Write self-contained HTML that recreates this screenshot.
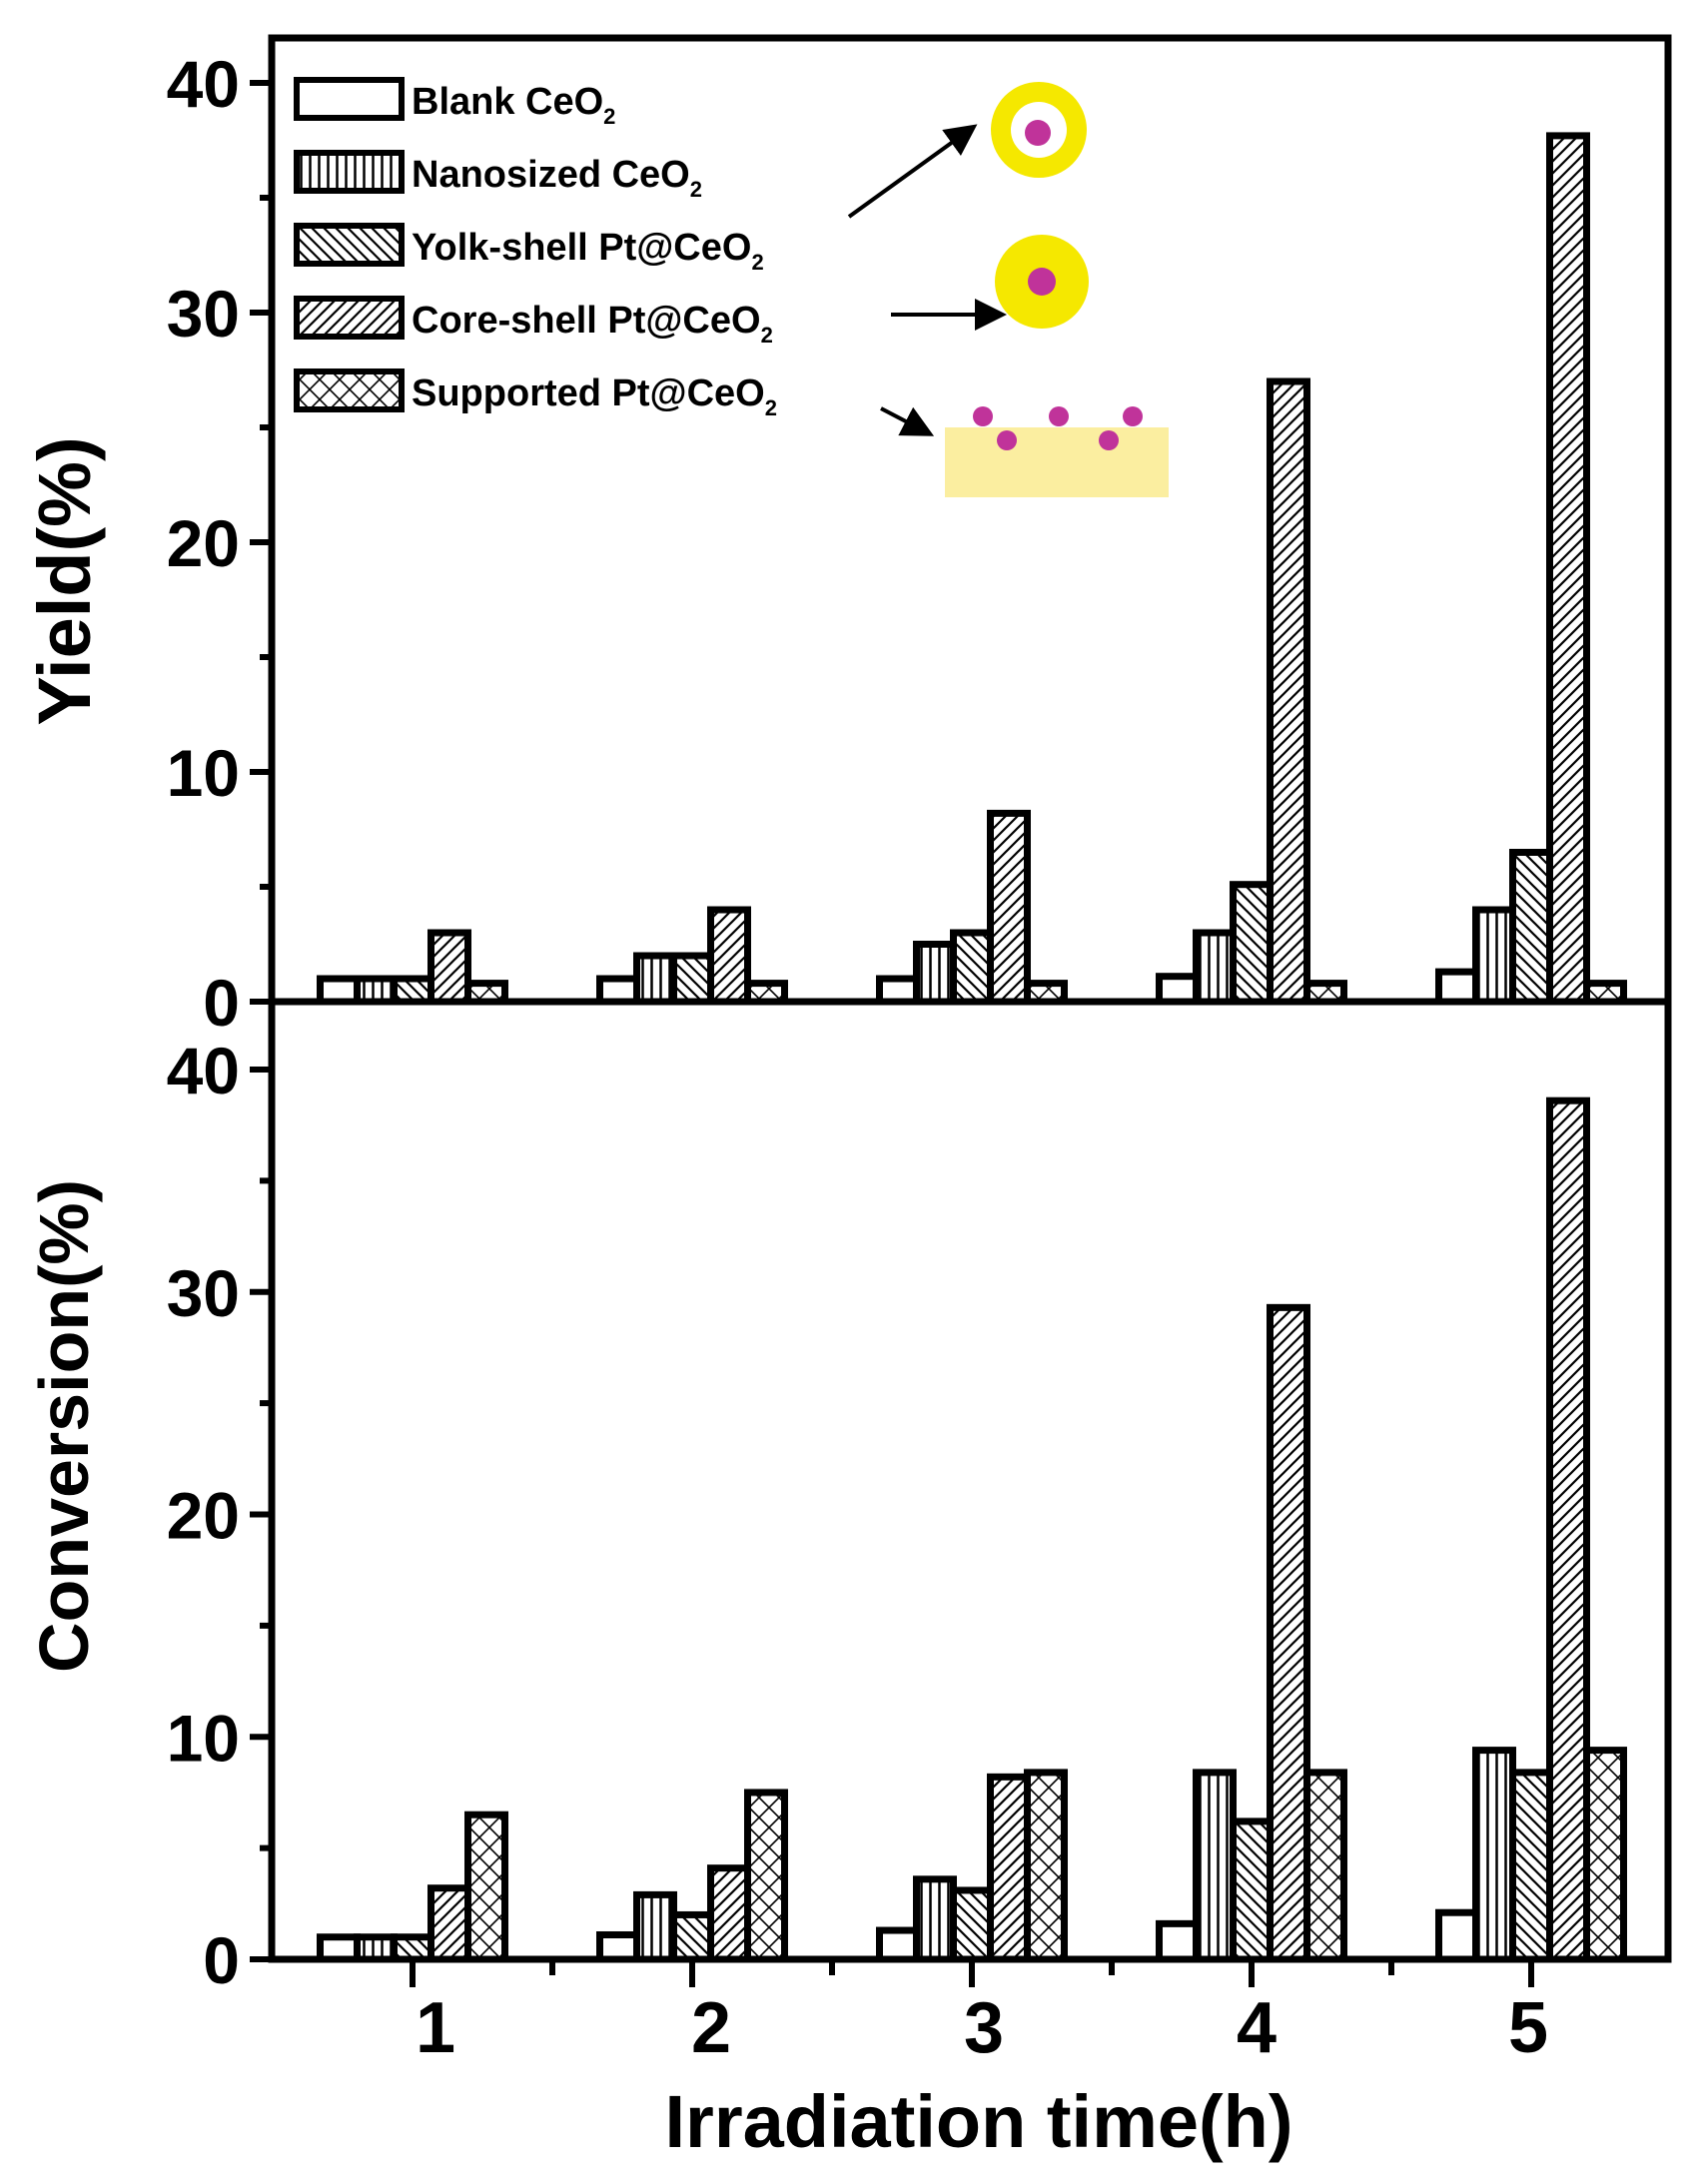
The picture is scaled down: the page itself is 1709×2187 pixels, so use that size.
<!DOCTYPE html>
<html><head><meta charset="utf-8"><style>
html,body{margin:0;padding:0;background:#fff;}
svg{display:block;}
.t{font-family:"Liberation Sans Narrow","Liberation Sans",sans-serif;font-weight:bold;}
</style></head><body>
<svg width="1709" height="2187" viewBox="0 0 1709 2187" xmlns="http://www.w3.org/2000/svg">
<defs>
<pattern id="pv" width="9" height="9" patternUnits="userSpaceOnUse"><line x1="4.5" y1="0" x2="4.5" y2="9" stroke="#000" stroke-width="2.5"/></pattern>
<pattern id="pb" width="12" height="12" patternUnits="userSpaceOnUse"><path d="M-3,-3 L15,15 M-3,9 L3,15 M9,-3 L15,3" stroke="#000" stroke-width="2.2"/></pattern>
<pattern id="pf" width="12" height="12" patternUnits="userSpaceOnUse"><path d="M-3,15 L15,-3 M-3,3 L3,-3 M9,15 L15,9" stroke="#000" stroke-width="2.2"/></pattern>
<pattern id="px" width="20" height="20" patternUnits="userSpaceOnUse"><path d="M0,0 L20,20 M20,0 L0,20" stroke="#000" stroke-width="1.6"/></pattern>
<marker id="ah" markerWidth="8" markerHeight="8" refX="6" refY="4" orient="auto" markerUnits="strokeWidth"><path d="M0,0 L8,4 L0,8 z" fill="#000"/></marker>
</defs>
<g id="bars" stroke="#000" stroke-width="7"></g>
<rect x="272" y="38" width="1398" height="1924" fill="none" stroke="#000" stroke-width="7"/>
<line x1="272" y1="1003" x2="1670" y2="1003" stroke="#000" stroke-width="7"/>
<g id="ticks" stroke="#000" stroke-width="6"></g>
<g class="t" font-size="66" text-anchor="end" id="ylab"></g>
<g class="t" font-size="72" text-anchor="middle">
<text x="436" y="2055">1</text><text x="712" y="2055">2</text><text x="985" y="2055">3</text><text x="1258" y="2055">4</text><text x="1530" y="2055">5</text>
</g>
<text class="t" font-size="74" x="980" y="2150" text-anchor="middle">Irradiation time(h)</text>
<text font-family="Liberation Sans,sans-serif" font-weight="bold" font-size="74" transform="translate(90,582) rotate(-90)" text-anchor="middle">Yield(%)</text>
<text font-family="Liberation Sans,sans-serif" font-weight="bold" font-size="70" transform="translate(88,1428) rotate(-90)" text-anchor="middle">Conversion(%)</text>
<g stroke="#000" stroke-width="6">
<rect x="297" y="80" width="105" height="38" fill="#fff"/>
<rect x="297" y="153" width="105" height="38" fill="url(#pv)"/>
<rect x="297" y="226" width="105" height="38" fill="url(#pb)"/>
<rect x="297" y="299" width="105" height="38" fill="url(#pf)"/>
<rect x="297" y="372" width="105" height="38" fill="url(#px)"/>
</g>
<g class="t" font-size="38">
<text x="412" y="114">Blank CeO<tspan font-size="22" dy="10">2</tspan></text>
<text x="412" y="187">Nanosized CeO<tspan font-size="22" dy="10">2</tspan></text>
<text x="412" y="260">Yolk-shell Pt@CeO<tspan font-size="22" dy="10">2</tspan></text>
<text x="412" y="333">Core-shell Pt@CeO<tspan font-size="22" dy="10">2</tspan></text>
<text x="412" y="406">Supported Pt@CeO<tspan font-size="22" dy="10">2</tspan></text>
</g>
<circle cx="1040" cy="130" r="48" fill="#f5e800"/><circle cx="1040" cy="130" r="28" fill="#fff"/><circle cx="1039" cy="133" r="13" fill="#c0339a"/>
<circle cx="1043" cy="282" r="47" fill="#f5e800"/><circle cx="1043" cy="282" r="14" fill="#c0339a"/>
<rect x="946" y="428" width="224" height="70" fill="#fbeea0"/>
<g fill="#c0339a"><circle cx="984" cy="417" r="10"/><circle cx="1008" cy="441" r="10"/><circle cx="1060" cy="417" r="10"/><circle cx="1110" cy="441" r="10"/><circle cx="1134" cy="417" r="10"/></g>
<g stroke="#000" stroke-width="4" marker-end="url(#ah)">
<line x1="850" y1="217" x2="972" y2="129"/>
<line x1="892" y1="315" x2="1000" y2="315"/>
<line x1="882" y1="409" x2="928" y2="433"/>
</g>
</svg>
<script>
(function(){
var NS="http://www.w3.org/2000/svg";
function el(p,t,a){var e=document.createElementNS(NS,t);for(var k in a)e.setAttribute(k,a[k]);p.appendChild(e);return e;}
var fills=["#fff","url(#pv)","url(#pb)","url(#pf)","url(#px)"];
var dTop=[[1,1,1,3,0.8],[1,2,2,4,0.8],[1,2.5,3,8.2,0.8],[1.1,3,5.1,27,0.8],[1.3,4,6.5,37.7,0.8]];
var dBot=[[1,1,1,3.2,6.5],[1.1,2.9,2,4.1,7.5],[1.3,3.6,3.1,8.2,8.4],[1.6,8.4,6.2,29.3,8.4],[2.1,9.4,8.4,38.6,9.4]];
var g=document.getElementById("bars");
function draw(d,y0,s){for(var i=0;i<5;i++){var c=413+280*i;for(var j=0;j<5;j++){var h=d[i][j]*s;el(g,"rect",{x:c-92.5+37*j,y:y0-h,width:37,height:h,fill:fills[j]});}}}
draw(dTop,1003,23);draw(dBot,1962,22.275);
var tk=document.getElementById("ticks"),yl=document.getElementById("ylab");
for(var v=0;v<=40;v+=5){var y1=1003-23*v,y2=1962-22.275*v,L=v%10==0?22:12;
el(tk,"line",{x1:272-L,y1:y1,x2:272,y2:y1});el(tk,"line",{x1:272-L,y1:y2,x2:272,y2:y2});
if(v%10==0){var t=el(yl,"text",{x:240,y:y1+24});t.textContent=v;t=el(yl,"text",{x:240,y:y2+24});t.textContent=v;}}
for(var x=272+141;x<1670;x+=140){var maj=((x-413)%280)==0;el(tk,"line",{x1:x,y1:1962,x2:x,y2:1962+(maj?28:16)});}
})();
</script>
</body></html>
